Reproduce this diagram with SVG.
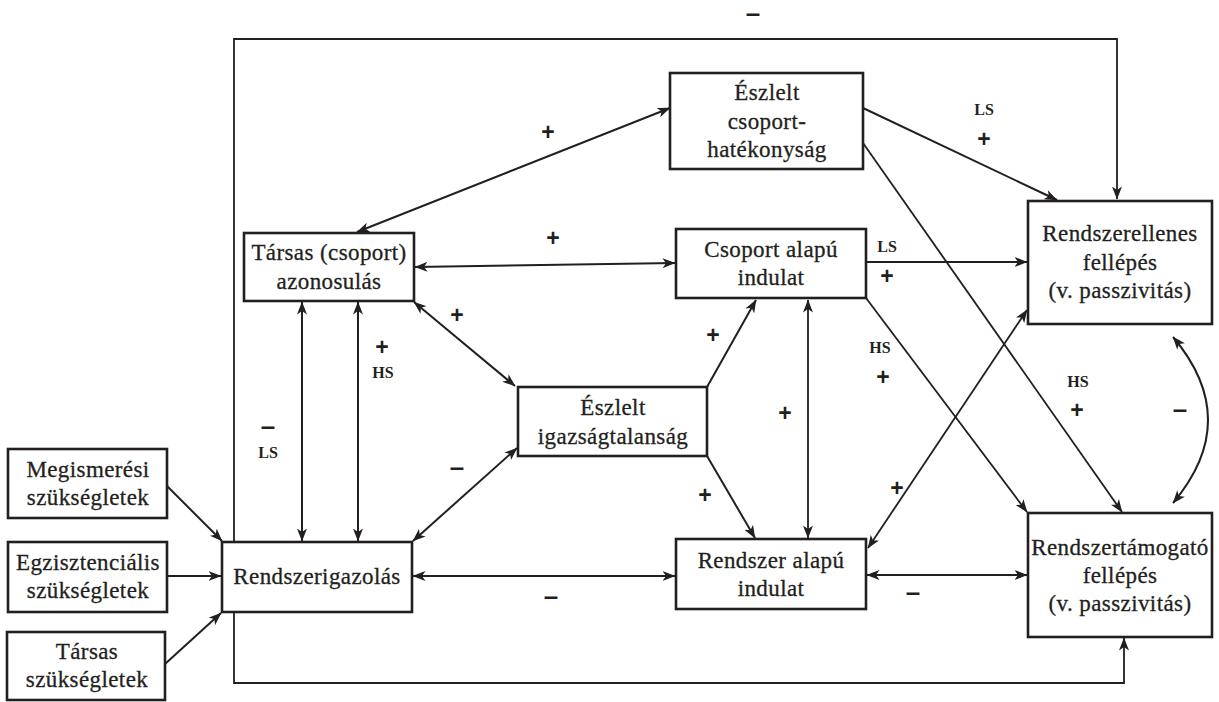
<svg xmlns="http://www.w3.org/2000/svg" width="1219" height="702" viewBox="0 0 1219 702">
<style>
.box{fill:#fff;stroke:#231f20;stroke-width:2.6}
.t{font-family:'Liberation Serif','DejaVu Serif',serif;font-size:23px;fill:#231f20;stroke:#231f20;stroke-width:0.3;text-anchor:middle;letter-spacing:0.4px}
.c{fill:none;stroke:#231f20;stroke-width:2}
.f{fill:none;stroke:#231f20;stroke-width:1.8}
.a{marker-end:url(#ah)}
.b{marker-start:url(#ah);marker-end:url(#ah)}
.s{font-family:'Liberation Sans',Arial,sans-serif;font-weight:bold;font-size:23px;fill:#231f20;text-anchor:middle}
.m{font-family:'Liberation Sans',Arial,sans-serif;font-weight:bold;font-size:26px;fill:#231f20;text-anchor:middle}
.l{font-family:'Liberation Serif','DejaVu Serif',serif;font-weight:bold;font-size:16px;fill:#231f20;text-anchor:middle}
</style>
<defs>
<marker id="ah" viewBox="0 0 13 10" refX="12.5" refY="5" markerWidth="13" markerHeight="10" markerUnits="userSpaceOnUse" orient="auto-start-reverse">
<path d="M0,0 L13,5 L0,10 L3.5,5 Z" fill="#231f20"/>
</marker>
</defs>
<rect width="1219" height="702" fill="#fff"/>

<g id="connectors">
<polyline class="f a" points="234,542 234,39 1117,39 1117,199"/>
<polyline class="f a" points="234,612 234,683 1124,683 1124,638"/>
<line class="c a" x1="167" y1="486" x2="222" y2="541"/>
<line class="c a" x1="167" y1="576" x2="221" y2="576"/>
<line class="c a" x1="165" y1="664" x2="221" y2="613"/>
<line class="c b" x1="357" y1="232" x2="670" y2="108"/>
<line class="c b" x1="415" y1="267" x2="675" y2="263"/>
<line class="c a" x1="863" y1="108" x2="1057" y2="200"/>
<line class="f a" x1="863" y1="143" x2="1122" y2="512"/>
<line class="c a" x1="866" y1="262" x2="1027" y2="262"/>
<line class="f a" x1="866" y1="298" x2="1027" y2="512"/>
<line class="f b" x1="868" y1="548" x2="1027" y2="310"/>
<path class="c b" d="M1173,337 Q1243,420 1173,503"/>
<line class="c b" x1="867" y1="575" x2="1027" y2="575"/>
<line class="c b" x1="413" y1="576" x2="675" y2="576"/>
<line class="c a" x1="707" y1="387" x2="756" y2="300"/>
<line class="c a" x1="707" y1="456" x2="755" y2="538"/>
<line class="f b" x1="808" y1="300" x2="808" y2="538"/>
<line class="c b" x1="414" y1="302" x2="515" y2="386"/>
<line class="c b" x1="413" y1="541" x2="517" y2="448"/>
<line class="c b" x1="302" y1="302" x2="302" y2="541"/>
<line class="c b" x1="358" y1="302" x2="358" y2="541"/>
</g>

<g id="n-hatekonysag">
<rect class="box" x="670" y="73" width="193" height="96"/>
<text class="t" x="767" y="100">Észlelt</text>
<text class="t" x="767" y="129">csoport-</text>
<text class="t" x="767" y="157">hatékonyság</text>
</g>
<g id="n-csoport">
<rect class="box" x="676" y="229" width="190" height="69"/>
<text class="t" x="771" y="257">Csoport alapú</text>
<text class="t" x="771" y="285">indulat</text>
</g>
<g id="n-ellenes">
<rect class="box" x="1028" y="201" width="184" height="123"/>
<text class="t" x="1120" y="241">Rendszerellenes</text>
<text class="t" x="1120" y="270">fellépés</text>
<text class="t" x="1120" y="298">(v. passzivitás)</text>
</g>
<g id="n-tarsas">
<rect class="box" x="244" y="233" width="170" height="68"/>
<text class="t" x="329" y="260">Társas (csoport)</text>
<text class="t" x="329" y="289">azonosulás</text>
</g>
<g id="n-igazsag">
<rect class="box" x="518" y="387" width="189" height="69"/>
<text class="t" x="613" y="415">Észlelt</text>
<text class="t" x="613" y="444">igazságtalanság</text>
</g>
<g id="n-rendszer">
<rect class="box" x="676" y="539" width="190" height="70"/>
<text class="t" x="771" y="568">Rendszer alapú</text>
<text class="t" x="771" y="596">indulat</text>
</g>
<g id="n-tamogato">
<rect class="box" x="1028" y="513" width="184" height="124"/>
<text class="t" x="1120" y="555">Rendszertámogató</text>
<text class="t" x="1120" y="583">fellépés</text>
<text class="t" x="1120" y="611">(v. passzivitás)</text>
</g>
<g id="n-rigazolas">
<rect class="box" x="222" y="542" width="190" height="70"/>
<text class="t" x="317" y="584">Rendszerigazolás</text>
</g>
<g id="n-megismeresi">
<rect class="box" x="8" y="449" width="159" height="69"/>
<text class="t" x="88" y="477">Megismerési</text>
<text class="t" x="88" y="505">szükségletek</text>
</g>
<g id="n-egzisztencialis">
<rect class="box" x="8" y="542" width="159" height="70"/>
<text class="t" x="88" y="570">Egzisztenciális</text>
<text class="t" x="88" y="598">szükségletek</text>
</g>
<g id="n-tarsas-sz">
<rect class="box" x="7" y="632" width="158" height="68"/>
<text class="t" x="87" y="659">Társas</text>
<text class="t" x="87" y="687">szükségletek</text>
</g>

<g id="labels">
<text class="m" x="753" y="22">–</text>
<text class="s" x="548" y="140">+</text>
<text class="s" x="553" y="246">+</text>
<text class="l" x="984" y="115">LS</text>
<text class="s" x="984" y="147">+</text>
<text class="l" x="887" y="252">LS</text>
<text class="s" x="887" y="284">+</text>
<text class="l" x="880" y="353">HS</text>
<text class="s" x="883" y="385">+</text>
<text class="l" x="1078" y="387">HS</text>
<text class="s" x="1077" y="418">+</text>
<text class="m" x="1180" y="418">–</text>
<text class="s" x="457" y="323">+</text>
<text class="s" x="382" y="355">+</text>
<text class="l" x="383" y="378">HS</text>
<text class="m" x="268" y="435">–</text>
<text class="l" x="268" y="458">LS</text>
<text class="s" x="713" y="343">+</text>
<text class="s" x="785" y="421">+</text>
<text class="s" x="705" y="503">+</text>
<text class="m" x="457" y="476">–</text>
<text class="s" x="897" y="496">+</text>
<text class="m" x="551" y="605">–</text>
<text class="m" x="913" y="601">–</text>
</g>
</svg>
